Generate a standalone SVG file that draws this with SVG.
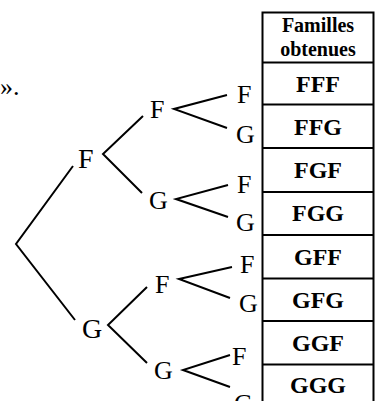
<svg xmlns="http://www.w3.org/2000/svg" width="379" height="401" viewBox="0 0 379 401">
<style>
.t{font-family:"Liberation Serif","Times New Roman",serif;font-size:26px;fill:#000}
.b{font-size:28px}
.h{font-family:"Liberation Serif","Times New Roman",serif;font-size:20px;font-weight:bold;fill:#000;text-anchor:middle}
.r{font-family:"Liberation Serif","Times New Roman",serif;font-size:24px;font-weight:bold;fill:#000;text-anchor:middle}
.ln{stroke:#000;stroke-width:2;fill:none}
</style>
<rect width="379" height="401" fill="#fff"/>
<text class="t" x="0" y="95">».</text>
<g id="connectors">
<polyline class="ln" points="73,166 16,244 75,320"/>
<polyline class="ln" points="143,116 103,154 142,193"/>
<polyline class="ln" points="147,287 108,325 147,363"/>
<polyline class="ln" points="227,95 174,109 227,128"/>
<polyline class="ln" points="228,185 176,199 228,217"/>
<polyline class="ln" points="232,267 179,279 230,298"/>
<polyline class="ln" points="230,355 183,370 230,387"/>
</g>
<g id="n-F1"><text class="t b" x="78" y="168">F</text></g>
<g id="n-G1"><text class="t b" x="82" y="338">G</text></g>
<g id="n-FF"><text class="t" x="150" y="118">F</text></g>
<g id="n-FG"><text class="t" x="149" y="209">G</text></g>
<g id="n-GF"><text class="t" x="155" y="293">F</text></g>
<g id="n-GG"><text class="t" x="154" y="379">G</text></g>
<g id="n-FFF"><text class="t" x="237" y="103">F</text></g>
<g id="n-FFG"><text class="t" x="236" y="143">G</text></g>
<g id="n-FGF"><text class="t" x="237" y="193">F</text></g>
<g id="n-FGG"><text class="t" x="236" y="231">G</text></g>
<g id="n-GFF"><text class="t" x="240" y="273">F</text></g>
<g id="n-GFG"><text class="t" x="239" y="312">G</text></g>
<g id="n-GGF"><text class="t" x="232" y="365">F</text></g>
<g id="n-GGG"><text class="t" x="234" y="412">G</text></g>
<g id="table">
<polyline class="ln" points="262.5,401 262.5,12.5 373.5,12.5 373.5,401"/>
<line class="ln" x1="262" y1="62.5" x2="374" y2="62.5"/>
<line class="ln" x1="262" y1="104.5" x2="374" y2="104.5"/>
<line class="ln" x1="262" y1="148" x2="374" y2="148"/>
<line class="ln" x1="262" y1="192" x2="374" y2="192"/>
<line class="ln" x1="262" y1="235" x2="374" y2="235"/>
<line class="ln" x1="262" y1="278.5" x2="374" y2="278.5"/>
<line class="ln" x1="262" y1="321" x2="374" y2="321"/>
<line class="ln" x1="262" y1="364.5" x2="374" y2="364.5"/>
<text class="h" x="318" y="32">Familles</text>
<text class="h" x="318" y="56">obtenues</text>
<text class="r" x="318" y="92">FFF</text>
<text class="r" x="318" y="135">FFG</text>
<text class="r" x="318" y="178">FGF</text>
<text class="r" x="318" y="221">FGG</text>
<text class="r" x="318" y="265">GFF</text>
<text class="r" x="318" y="308">GFG</text>
<text class="r" x="318" y="351">GGF</text>
<text class="r" x="318" y="393">GGG</text>
</g>
</svg>
